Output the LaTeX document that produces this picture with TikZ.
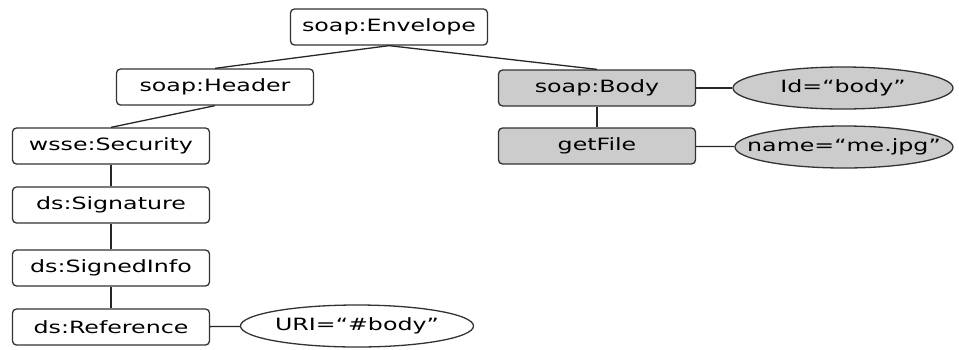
\documentclass[tikz,border=0pt]{standalone}
\usepackage{fontspec}
\setmainfont{DejaVu Sans}[FakeStretch=1.4]
\usepackage{tikz}
\usetikzlibrary{shapes.geometric}

\begin{document}
\begin{tikzpicture}[x=1bp,y=-1bp,
                  elem/.style={draw=black!80,line width=1.3bp,rounded corners=4bp,
                    minimum width=197bp,minimum height=36bp,inner sep=0pt,
                    font=\fontsize{17}{20}\selectfont},
                  bodyelem/.style={elem,fill=black!20},
                  attr/.style={draw=black!80,line width=1.3bp,ellipse,inner xsep=-40bp,
                    inner ysep=0pt,minimum width=220bp,minimum height=42bp,
                    font=\fontsize{17}{20}\selectfont},
                  link/.style={draw=black!85,line width=1.3bp}]
  \useasboundingbox (0,0) rectangle (959,349);

  \node[elem]     (envelope)  at (389,27)  {soap:Envelope};
  \node[elem]     (header)    at (215,87)  {soap:Header};
  \node[elem]     (security)  at (111,146) {wsse:Security};
  \node[elem]     (signature) at (111,205) {ds:Signature};
  \node[elem]     (signedinfo) at (111,268) {ds:SignedInfo};
  \node[elem]     (reference) at (111,327) {ds:Reference};
  \node[attr,minimum width=233bp]
                  (uri)       at (357,326) {URI=“\#body”};
  \node[bodyelem] (body)      at (597,88)  {soap:Body};
  \node[bodyelem] (getfile)   at (597,146) {getFile};
  \node[attr,fill=black!20]
                  (id)        at (843,88)  {Id=“body”};
  \node[attr,fill=black!20,minimum width=218bp]
                  (name)      at (844,147) {name=“me.jpg”};

  \draw[link] (envelope.south) -- (header.north);
  \draw[link] (envelope.south) -- (body.north);
  \draw[link] (header.south)   -- (security.north);
  \draw[link] (security)       -- (signature);
  \draw[link] (signature)      -- (signedinfo);
  \draw[link] (signedinfo)     -- (reference);
  \draw[link] (reference)      -- (uri);
  \draw[link] (body)           -- (getfile);
  \draw[link] (body)           -- (id);
  \draw[link] (getfile)        -- (name);

\end{tikzpicture}
\end{document}
